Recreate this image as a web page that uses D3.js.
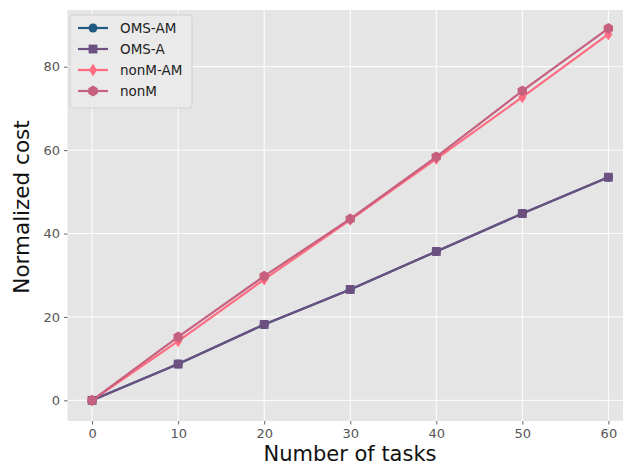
<!DOCTYPE html>
<html>
<head>
<meta charset="utf-8">
<script src="https://cdn.jsdelivr.net/npm/d3@7"></script>
<style>
  html, body { margin: 0; padding: 0; background: #fff; }
  svg { display: block; font-family: "DejaVu Sans", sans-serif; }
</style>
</head>
<body>
<svg id="chart" width="624" height="466"></svg>
<script>
// Task counts on the x axis
const tasks = [0, 10, 20, 30, 40, 50, 60];

// Normalized cost per method
const omsAM  = [0, 8.7, 18.2, 26.6, 35.7, 44.8, 53.5];
const omsA   = [0, 8.7, 18.2, 26.6, 35.7, 44.8, 53.5];
const nonMAM = [0, 14.2, 29.0, 43.3, 57.9, 72.7, 87.8];
const nonM   = [0, 15.2, 29.8, 43.5, 58.4, 74.2, 89.2];

const seriesNames = ["OMS-AM", "OMS-A", "nonM-AM", "nonM"];
const seriesValues = [omsAM, omsA, nonMAM, nonM];
const seriesColors = ["#1f5b82", "#6b5080", "#ff6b80", "#c6607f"];
const seriesMarkers = ["circle", "square", "diamond", "hexagon"];

const xTicks = [0, 10, 20, 30, 40, 50, 60];
const yTicks = [0, 20, 40, 60, 80];

const svg = d3.select("#chart");
const plot = { left: 67.5, top: 10, right: 623, bottom: 421 };

const x = d3.scaleLinear().domain([-2.86, 61.7]).range([plot.left, plot.right]);
const y = d3.scaleLinear().domain([-4.95, 93.6]).range([plot.bottom, plot.top]);

// panel background
svg.append("rect")
  .attr("x", plot.left).attr("y", plot.top)
  .attr("width", plot.right - plot.left).attr("height", plot.bottom - plot.top)
  .attr("fill", "#e5e5e5");

// grid
const grid = svg.append("g");
grid.selectAll(".gx").data(xTicks).join("line")
  .attr("x1", d => x(d)).attr("x2", d => x(d))
  .attr("y1", plot.top).attr("y2", plot.bottom)
  .attr("stroke", "#fff").attr("stroke-width", 1);
grid.selectAll(".gy").data(yTicks).join("line")
  .attr("y1", d => y(d)).attr("y2", d => y(d))
  .attr("x1", plot.left).attr("x2", plot.right)
  .attr("stroke", "#fff").attr("stroke-width", 1);

// axes
const xAxis = d3.axisBottom(x).tickValues(xTicks).tickSize(3.5).tickPadding(4);
const yAxis = d3.axisLeft(y).tickValues(yTicks).tickSize(3.5).tickPadding(4);

const gx = svg.append("g").attr("transform", `translate(0,${plot.bottom})`).call(xAxis);
const gy = svg.append("g").attr("transform", `translate(${plot.left},0)`).call(yAxis);
[gx, gy].forEach(g => {
  g.select(".domain").remove();
  g.selectAll(".tick line").attr("stroke", "#555").attr("stroke-width", 0.9);
  g.selectAll(".tick text").attr("fill", "#555").attr("font-size", 13)
    .attr("font-family", "DejaVu Sans, sans-serif");
});

// axis titles
svg.append("text")
  .attr("x", 350).attr("y", 461)
  .attr("text-anchor", "middle").attr("font-size", 21).attr("fill", "#111")
  .text("Number of tasks");
svg.append("text")
  .attr("transform", `translate(29,${207}) rotate(-90)`)
  .attr("text-anchor", "middle").attr("font-size", 21.5).attr("fill", "#111")
  .text("Normalized cost");

// marker shapes
function hexagonPath(r) {
  const pts = d3.range(6).map(i => {
    const a = Math.PI / 6 + i * Math.PI / 3;
    return [r * Math.cos(a), r * Math.sin(a)];
  });
  return "M" + pts.map(p => p.join(",")).join("L") + "Z";
}
function markerPath(kind) {
  switch (kind) {
    case "circle": return d3.symbol(d3.symbolCircle, 64)();
    case "square": return d3.symbol(d3.symbolSquare, 78)();
    case "diamond": return "M0,-6.2L4,0L0,6.2L-4,0Z";
    case "hexagon": return hexagonPath(5.4);
  }
}

const line = d3.line().x((d, i) => x(tasks[i])).y(d => y(d));

const seriesG = svg.append("g");
seriesValues.forEach((vals, si) => {
  const g = seriesG.append("g");
  g.append("path").datum(vals)
    .attr("d", line)
    .attr("fill", "none")
    .attr("stroke", seriesColors[si])
    .attr("stroke-width", 2.2);
  g.selectAll("path.m").data(vals).join("path")
    .attr("class", "m")
    .attr("transform", (d, i) => `translate(${x(tasks[i])},${y(d)})`)
    .attr("d", markerPath(seriesMarkers[si]))
    .attr("fill", seriesColors[si]);
});

// legend
const legend = svg.append("g").attr("transform", "translate(70,15)");
legend.append("rect")
  .attr("width", 122).attr("height", 93).attr("rx", 3)
  .attr("fill", "#eaeaea").attr("fill-opacity", 0.9)
  .attr("stroke", "#cccccc").attr("stroke-width", 0.8);
seriesNames.forEach((name, i) => {
  const row = legend.append("g").attr("transform", `translate(0,${13 + i * 21})`);
  row.append("line").attr("x1", 8).attr("x2", 38).attr("y1", 0).attr("y2", 0)
    .attr("stroke", seriesColors[i]).attr("stroke-width", 2.2);
  row.append("path").attr("transform", "translate(23,0)")
    .attr("d", markerPath(seriesMarkers[i])).attr("fill", seriesColors[i]);
  row.append("text").attr("x", 50).attr("y", 5)
    .attr("font-size", 13.5).attr("fill", "#222").text(name);
});
</script>
</body>
</html>
